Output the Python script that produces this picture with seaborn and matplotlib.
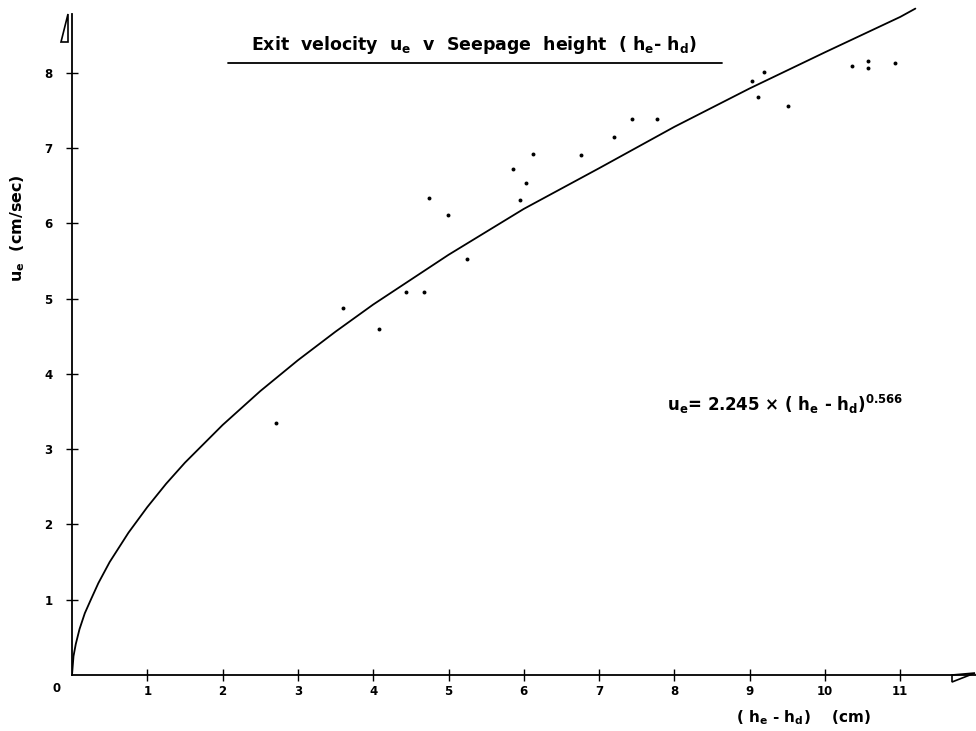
import matplotlib
matplotlib.use("Agg")
import matplotlib.pyplot as plt
from matplotlib.patches import Polygon
from matplotlib.lines import Line2D
import seaborn as sns
import pandas as pd

# Measured points: seepage height (he - hd) in cm, exit velocity ue in cm/sec
seepage_cm = [2.71, 3.60, 4.08, 4.44, 4.67, 4.74, 4.99, 5.25, 5.86, 5.95, 6.03, 6.12,
              6.76, 7.20, 7.44, 7.77, 9.03, 9.11, 9.19, 9.51, 10.36, 10.57, 10.57, 10.93]
velocity = [3.34, 4.87, 4.59, 5.08, 5.08, 6.33, 6.11, 5.52, 6.72, 6.31, 6.54, 6.92,
            6.91, 7.15, 7.39, 7.39, 7.89, 7.68, 8.01, 7.56, 8.09, 8.16, 8.06, 8.13]

# Fitted curve
curve_x = [0, 0.02, 0.05, 0.1, 0.17, 0.25, 0.35, 0.5, 0.75, 1, 1.25, 1.5, 2, 2.5,
           3, 3.5, 4, 5, 6, 7, 8, 9, 10, 11, 11.2]
curve_u = [0, 0.25, 0.41, 0.61, 0.82, 1.0, 1.22, 1.5, 1.89, 2.23, 2.54, 2.82, 3.32, 3.77,
           4.18, 4.56, 4.92, 5.58, 6.19, 6.73, 7.28, 7.79, 8.27, 8.74, 8.85]

x_ticks = [1, 2, 3, 4, 5, 6, 7, 8, 9, 10, 11]
y_ticks = [1, 2, 3, 4, 5, 6, 7, 8]

sns.set_style("white")
plt.rcParams["font.family"] = ["DejaVu Sans"]
plt.rcParams["font.weight"] = "bold"
plt.rcParams["text.color"] = "black"
plt.rcParams["mathtext.fontset"] = "custom"
plt.rcParams["mathtext.rm"] = "DejaVu Sans:bold"
plt.rcParams["mathtext.it"] = "DejaVu Sans:bold"
plt.rcParams["mathtext.bf"] = "DejaVu Sans:bold"
plt.rcParams["mathtext.default"] = "rm"

W, H = 976, 731
fig = plt.figure(figsize=(W / 100, H / 100), dpi=100)
x0, y0 = 72, 675       # pixel origin
pxu_x, pxu_y = 75.3, 75.3
ax = fig.add_axes([x0 / W, (H - y0) / H, (W - x0) / W, y0 / H])
ax.set_xlim(0, (W - x0) / pxu_x)
ax.set_ylim(0, y0 / pxu_y)

df_pts = pd.DataFrame({"x": seepage_cm, "u": velocity})
df_curve = pd.DataFrame({"x": curve_x, "u": curve_u})
sns.lineplot(data=df_curve, x="x", y="u", ax=ax, color="black", linewidth=1.3,
             sort=False, estimator=None)
sns.scatterplot(data=df_pts, x="x", y="u", ax=ax, color="black", s=8,
                edgecolor="black", linewidth=0)

for s in ["top", "right"]:
    ax.spines[s].set_visible(False)
for s in ["left", "bottom"]:
    ax.spines[s].set_color("black")
    ax.spines[s].set_linewidth(1.3)
ax.spines["left"].set_bounds(0, (y0 - 14) / pxu_y)

ax.set_xticks(x_ticks)
ax.set_xticklabels([str(t) for t in x_ticks])
ax.set_yticks(y_ticks)
ax.set_yticklabels([str(t) for t in y_ticks])
ax.tick_params(bottom=True, left=True, top=False, right=False,
               direction="inout", length=8, width=1, color="black",
               labelsize=8.5, labelcolor="black")
ax.tick_params(axis="x", pad=3)
ax.tick_params(axis="y", pad=10)
for lab in ax.get_xticklabels() + ax.get_yticklabels():
    lab.set_fontweight("bold")
ax.set_xlabel("")
ax.set_ylabel("")

def af(px, py):
    return ((px - x0) / (W - x0), (y0 - py) / y0)

# half arrowheads at the axis ends
ax.add_patch(Polygon([af(68, 14), af(61, 42), af(68, 42)], closed=True, fill=False,
                     edgecolor="black", linewidth=1.2, transform=ax.transAxes, clip_on=False))
ax.add_patch(Polygon([af(952, 675), af(952, 682), af(975, 673)], closed=True, fill=False,
                     edgecolor="black", linewidth=1.2, transform=ax.transAxes, clip_on=False))

# origin label
fig.text(57 / W, 1 - 688 / H, "0", ha="center", va="center", fontsize=8.5, fontweight="bold")

# title with underline
fig.text(474 / W, 1 - 45 / H,
         r"Exit  velocity  $u_e$  v  Seepage  height  ( $h_e$- $h_d$)",
         ha="center", va="center", fontsize=12.5, fontweight="bold")
fig.add_artist(Line2D([228 / W, 722 / W], [1 - 63 / H, 1 - 63 / H], color="black", linewidth=1.3))

# axis titles
fig.text(18 / W, 1 - 228 / H, r"$u_e$  (cm/sec)", rotation=90, ha="center", va="center",
         fontsize=11.5, fontweight="bold")
fig.text(803 / W, 1 - 718 / H, r"( $h_e$ - $h_d$)    (cm)", ha="center", va="center",
         fontsize=11, fontweight="bold")

# equation
fig.text(667 / W, 1 - 404 / H, r"$u_e$= 2.245 × ( $h_e$ - $h_d$)$^{0.566}$",
         ha="left", va="center", fontsize=12, fontweight="bold")

fig.savefig("out.png", dpi=100, facecolor="white")
